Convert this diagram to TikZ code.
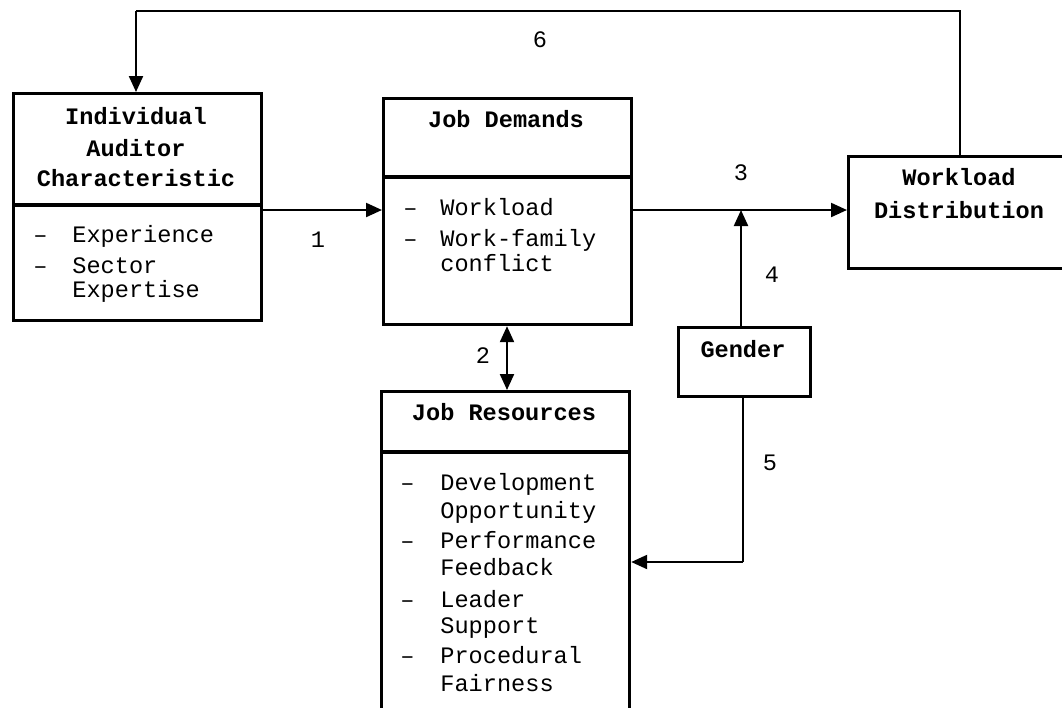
\documentclass[tikz,border=0pt]{standalone}
\usepackage{fontspec}
\setmonofont{Liberation Mono}
\usetikzlibrary{arrows.meta}
\begin{document}
\begin{tikzpicture}[x=0.5pt,y=-0.5pt,
  box/.style={draw,line width=1.6pt,inner sep=0pt,anchor=north west},
  divider/.style={line width=2.2pt},
  ttl/.style={font=\fontsize{11.8}{14}\ttfamily\bfseries,anchor=base,inner sep=0pt},
  itm/.style={font=\fontsize{11.8}{14}\ttfamily,anchor=base west,inner sep=0pt},
  num/.style={font=\fontsize{11.8}{14}\ttfamily,inner sep=0pt},
  conn/.style={line width=1.1pt,-{Triangle[length=8pt,width=7pt]}},
  line/.style={line width=1.1pt},
  dbl/.style={line width=1.1pt,{Triangle[length=8pt,width=7pt]}-{Triangle[length=8pt,width=7pt]}}]
\useasboundingbox (0,0) rectangle (1062,708);
\clip (0,0) rectangle (1062,708);

% boxes
\node[box,minimum width=124pt,minimum height=113.5pt] (iac) at (12,92) {};
\node[box,minimum width=124pt,minimum height=113pt] (jd) at (382,97) {};
\node[box,minimum width=124pt,minimum height=170pt] (jr) at (380,390) {};
\node[box,minimum width=120pt,minimum height=56pt] (wd) at (847,155) {};
\node[box,minimum width=66pt,minimum height=34.5pt] (gen) at (677,326) {};

% dividers
\draw[divider] (12,205) -- (260,205);
\draw[divider] (382,177) -- (630,177);
\draw[divider] (380,452) -- (628,452);

% IAC text
\node[ttl] (t1) at (136,124) {Individual};
\node[ttl] (t2) at (136,156) {Auditor};
\node[ttl] (t3) at (136,186) {Characteristic};
\node[itm] (d1) at (33,242) {–};
\node[itm] (i1) at (72,242) {Experience};
\node[itm] (d2) at (33,273) {–};
\node[itm] (i2) at (72,273) {Sector};
\node[itm] (i3) at (72,297) {Expertise};

% JD text
\node[ttl] (t4) at (506,127) {Job Demands};
\node[itm] (d3) at (403,215) {–};
\node[itm] (i4) at (440,215) {Workload};
\node[itm] (d4) at (403,246) {–};
\node[itm] (i5) at (440,246) {Work-family};
\node[itm] (i6) at (440,271) {conflict};

% JR text
\node[ttl] (t5) at (504,420) {Job Resources};
\node[itm] (d5) at (400,490) {–};
\node[itm] (i7) at (440,490) {Development};
\node[itm] (i8) at (440,518) {Opportunity};
\node[itm] (d6) at (400,548) {–};
\node[itm] (i9) at (440,548) {Performance};
\node[itm] (i10) at (440,575) {Feedback};
\node[itm] (d7) at (400,607) {–};
\node[itm] (i11) at (440,607) {Leader};
\node[itm] (i12) at (440,633) {Support};
\node[itm] (d8) at (400,663) {–};
\node[itm] (i13) at (440,663) {Procedural};
\node[itm] (i14) at (440,691) {Fairness};

% WD and Gender text
\node[ttl] (t6) at (959,185) {Workload};
\node[ttl] (t7) at (959,218) {Distribution};
\node[ttl] (t8) at (743,357) {Gender};

% connector coordinates
\coordinate (m) at (741,210);
\coordinate (c6a) at (960,11);
\coordinate (c6b) at (136,11);
\coordinate (c5) at (743,562);

% connectors
\draw[conn] (iac.east |- 0,210) -- (jd.west |- 0,210);
\draw[conn] (jd.east |- m) -- (wd.west |- m);
\draw[conn] (gen.north -| m) -- (m);
\draw[dbl] (jd.south -| 507,0) -- (jr.north -| 507,0);
\draw[line] (gen.south -| c5) -- (c5);
\draw[conn] (c5) -- (jr.east |- c5);
\draw[line] (wd.north -| c6a) -- (c6a) -- (c6b);
\draw[conn] (c6b) -- (iac.north -| c6b);

% labels
\node[num] (n1) at (318,240) {1};
\node[num] (n2) at (483,356) {2};
\node[num] (n3) at (741,173) {3};
\node[num] (n4) at (772,275) {4};
\node[num] (n5) at (770,463) {5};
\node[num] (n6) at (540,40) {6};
\end{tikzpicture}
\end{document}
